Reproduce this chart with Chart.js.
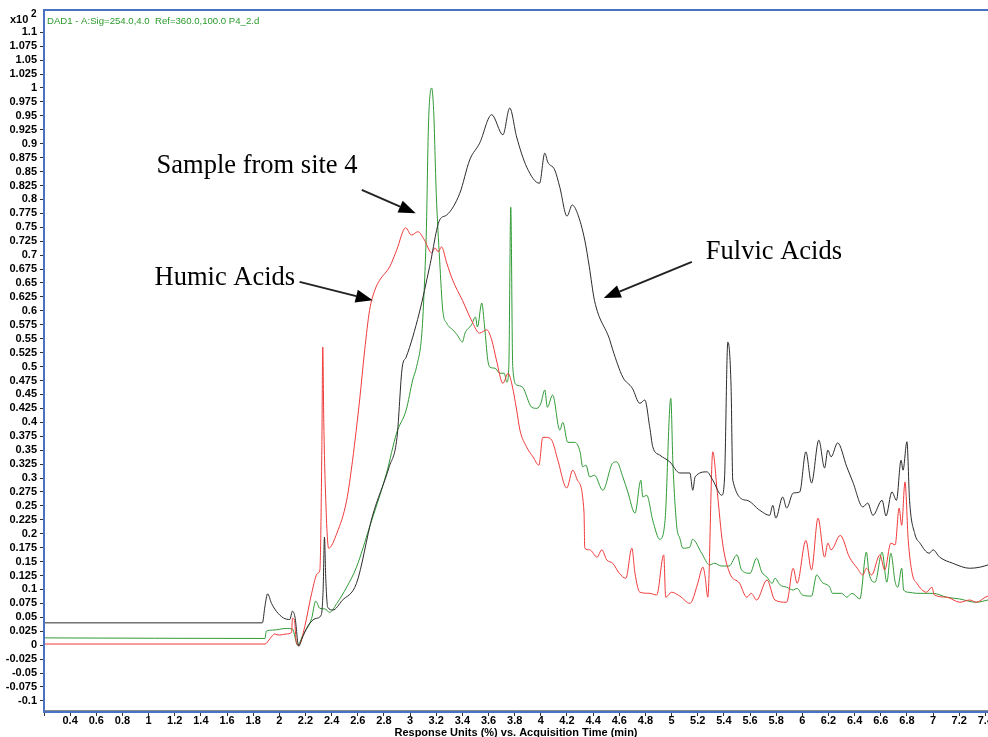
<!DOCTYPE html>
<html>
<head>
<meta charset="utf-8">
<script src="https://cdn.jsdelivr.net/npm/chart.js@4.4.1/dist/chart.umd.min.js"></script>
<style>
  html, body { margin: 0; padding: 0; background: #fff; }
  #wrap { width: 988px; height: 737px; position: relative; }
</style>
</head>
<body>
<div id="wrap"><canvas id="chart"></canvas></div>
<script>
// acquisition time (min) and response (x10^2 %) for each trace
const fulvicT = [0.2, 1.87, 1.89, 1.91, 1.94, 1.98, 2.03, 2.08, 2.10, 2.12, 2.148, 2.17, 2.22, 2.28, 2.32, 2.335, 2.345, 2.355, 2.37, 2.41, 2.48, 2.59, 2.71, 2.84, 2.90, 2.94, 2.97, 3.07, 3.15, 3.226, 3.28, 3.38, 3.456, 3.532, 3.624, 3.71, 3.762, 3.815, 3.892, 3.99, 4.03, 4.053, 4.106, 4.145, 4.2, 4.24, 4.28, 4.336, 4.37, 4.41, 4.527, 4.55, 4.627, 4.70, 4.757, 4.795, 4.833, 4.856, 4.91, 4.986, 5.063, 5.14, 5.162, 5.18, 5.27, 5.315, 5.384, 5.405, 5.43, 5.455, 5.468, 5.575, 5.675, 5.75, 5.774, 5.797, 5.85, 5.88, 5.93, 5.98, 6.027, 6.07, 6.126, 6.17, 6.195, 6.22, 6.27, 6.34, 6.386, 6.463, 6.50, 6.54, 6.61, 6.64, 6.685, 6.72, 6.755, 6.77, 6.80, 6.82, 6.86, 6.9, 6.97, 7.0, 7.05, 7.15, 7.28, 7.36, 7.42];
const fulvicV = [0.040, 0.040, 0.070, 0.092, 0.075, 0.060, 0.049, 0.046, 0.061, 0.050, -0.002, 0.010, 0.035, 0.048, 0.054, 0.100, 0.194, 0.120, 0.068, 0.063, 0.080, 0.111, 0.230, 0.320, 0.373, 0.499, 0.517, 0.596, 0.680, 0.763, 0.772, 0.811, 0.871, 0.901, 0.952, 0.916, 0.964, 0.912, 0.858, 0.829, 0.883, 0.867, 0.853, 0.822, 0.770, 0.790, 0.775, 0.727, 0.680, 0.619, 0.548, 0.530, 0.481, 0.461, 0.434, 0.440, 0.391, 0.356, 0.341, 0.329, 0.309, 0.309, 0.278, 0.302, 0.311, 0.296, 0.269, 0.300, 0.544, 0.463, 0.296, 0.260, 0.242, 0.233, 0.251, 0.228, 0.266, 0.246, 0.273, 0.275, 0.347, 0.291, 0.368, 0.318, 0.350, 0.338, 0.363, 0.320, 0.293, 0.248, 0.255, 0.233, 0.260, 0.232, 0.275, 0.260, 0.332, 0.314, 0.365, 0.260, 0.200, 0.183, 0.165, 0.171, 0.158, 0.147, 0.138, 0.140, 0.144];

const humicT = [0.2, 1.89, 1.93, 1.964, 2.0, 2.05, 2.094, 2.10, 2.115, 2.13, 2.15, 2.194, 2.247, 2.293, 2.31, 2.325, 2.332, 2.34, 2.35, 2.377, 2.44, 2.515, 2.56, 2.614, 2.653, 2.69, 2.73, 2.767, 2.844, 2.897, 2.966, 3.01, 3.06, 3.11, 3.165, 3.19, 3.215, 3.24, 3.28, 3.326, 3.40, 3.48, 3.53, 3.586, 3.624, 3.66, 3.71, 3.75, 3.775, 3.815, 3.84, 3.89, 3.94, 3.985, 4.015, 4.04, 4.083, 4.13, 4.198, 4.244, 4.28, 4.33, 4.336, 4.374, 4.43, 4.466, 4.504, 4.55, 4.60, 4.65, 4.696, 4.72, 4.757, 4.833, 4.886, 4.94, 4.955, 5.0, 5.063, 5.14, 5.16, 5.2, 5.24, 5.257, 5.277, 5.315, 5.35, 5.39, 5.445, 5.52, 5.575, 5.61, 5.65, 5.73, 5.79, 5.88, 5.93, 5.96, 6.027, 6.07, 6.12, 6.17, 6.195, 6.22, 6.29, 6.36, 6.42, 6.463, 6.49, 6.53, 6.593, 6.63, 6.677, 6.71, 6.74, 6.76, 6.785, 6.81, 6.84, 6.876, 6.95, 6.99, 7.01, 7.105, 7.205, 7.28, 7.33, 7.4, 7.42];
const humicV = [0.002, 0.002, 0.012, 0.020, 0.018, 0.020, 0.023, 0.048, 0.046, 0.005, 0.000, 0.033, 0.093, 0.129, 0.135, 0.350, 0.535, 0.400, 0.296, 0.174, 0.201, 0.260, 0.332, 0.440, 0.530, 0.601, 0.637, 0.655, 0.679, 0.709, 0.749, 0.736, 0.742, 0.727, 0.704, 0.713, 0.706, 0.715, 0.686, 0.655, 0.619, 0.578, 0.560, 0.566, 0.548, 0.512, 0.470, 0.488, 0.472, 0.422, 0.386, 0.356, 0.338, 0.323, 0.373, 0.373, 0.368, 0.332, 0.282, 0.314, 0.296, 0.239, 0.174, 0.171, 0.158, 0.171, 0.153, 0.147, 0.129, 0.120, 0.174, 0.129, 0.095, 0.093, 0.090, 0.162, 0.086, 0.095, 0.088, 0.075, 0.081, 0.111, 0.140, 0.122, 0.086, 0.347, 0.273, 0.183, 0.129, 0.111, 0.086, 0.093, 0.081, 0.117, 0.081, 0.077, 0.138, 0.111, 0.188, 0.135, 0.228, 0.158, 0.183, 0.171, 0.197, 0.158, 0.138, 0.126, 0.138, 0.126, 0.162, 0.135, 0.183, 0.180, 0.246, 0.215, 0.293, 0.188, 0.129, 0.111, 0.095, 0.104, 0.090, 0.086, 0.077, 0.081, 0.077, 0.086, 0.088];

const sampleT = [0.2, 1.89, 1.90, 1.95, 2.056, 2.10, 2.14, 2.18, 2.247, 2.278, 2.31, 2.347, 2.385, 2.44, 2.515, 2.59, 2.69, 2.82, 2.897, 2.97, 3.02, 3.05, 3.09, 3.11, 3.125, 3.14, 3.165, 3.18, 3.20, 3.226, 3.25, 3.28, 3.326, 3.36, 3.40, 3.42, 3.47, 3.50, 3.515, 3.548, 3.57, 3.594, 3.61, 3.65, 3.686, 3.72, 3.74, 3.755, 3.77, 3.785, 3.815, 3.86, 3.93, 3.97, 4.0, 4.03, 4.05, 4.09, 4.145, 4.168, 4.206, 4.26, 4.30, 4.32, 4.345, 4.374, 4.41, 4.474, 4.55, 4.58, 4.627, 4.665, 4.72, 4.765, 4.78, 4.81, 4.856, 4.91, 4.95, 4.994, 5.01, 5.04, 5.063, 5.086, 5.14, 5.16, 5.23, 5.29, 5.33, 5.38, 5.44, 5.5, 5.535, 5.6, 5.65, 5.69, 5.73, 5.77, 5.79, 5.83, 5.88, 5.93, 5.96, 6.0, 6.07, 6.11, 6.15, 6.21, 6.23, 6.30, 6.34, 6.38, 6.44, 6.49, 6.51, 6.556, 6.61, 6.646, 6.677, 6.71, 6.73, 6.76, 6.775, 6.81, 6.876, 7.0, 7.105, 7.2, 7.33, 7.42];
const sampleV = [0.013, 0.012, 0.025, 0.027, 0.030, 0.029, 0.000, 0.018, 0.048, 0.079, 0.066, 0.065, 0.059, 0.075, 0.104, 0.140, 0.212, 0.309, 0.381, 0.422, 0.476, 0.500, 0.560, 0.650, 0.750, 0.930, 1.000, 0.960, 0.811, 0.691, 0.601, 0.578, 0.566, 0.557, 0.544, 0.560, 0.575, 0.589, 0.571, 0.614, 0.571, 0.512, 0.499, 0.497, 0.488, 0.488, 0.472, 0.499, 0.786, 0.500, 0.467, 0.463, 0.427, 0.425, 0.434, 0.458, 0.427, 0.449, 0.386, 0.400, 0.364, 0.364, 0.347, 0.320, 0.323, 0.302, 0.305, 0.278, 0.327, 0.329, 0.302, 0.275, 0.237, 0.296, 0.266, 0.269, 0.224, 0.190, 0.224, 0.443, 0.327, 0.212, 0.192, 0.174, 0.176, 0.190, 0.165, 0.144, 0.147, 0.142, 0.142, 0.162, 0.135, 0.129, 0.156, 0.131, 0.122, 0.111, 0.120, 0.108, 0.104, 0.099, 0.102, 0.090, 0.088, 0.126, 0.113, 0.104, 0.093, 0.093, 0.086, 0.093, 0.083, 0.167, 0.129, 0.113, 0.167, 0.113, 0.165, 0.113, 0.104, 0.138, 0.099, 0.095, 0.093, 0.093, 0.086, 0.083, 0.077, 0.081];

// axis limits and tick steps
const X_MIN = 0.2, X_MAX = 7.42, X_STEP = 0.2;
const Y_MIN = -0.12, Y_MAX = 1.14, Y_STEP = 0.025, Y_TOP_TICK = 1.1;

const header = 'DAD1 - A:Sig=254.0,4.0  Ref=360.0,100.0 P4_2.d';
const xTitle = 'Response Units (%) vs. Acquisition Time (min)';

// callouts: text anchor and arrow, in data units
const notes = [
  { text: 'Sample from site 4', x: 1.061, y: 0.847, from: [2.63, 0.817], to: [3.043, 0.775] },
  { text: 'Humic Acids', x: 1.046, y: 0.646, from: [2.155, 0.652], to: [2.714, 0.619] },
  { text: 'Fulvic Acids', x: 5.262, y: 0.693, from: [5.155, 0.688], to: [4.481, 0.623] }
];

const pts = (t, v) => t.map((x, i) => ({ x: x, y: v[i] }));

const tickFont = { family: '"Liberation Sans", Arial, sans-serif', size: 11, weight: 'bold' };

const frame = {
  id: 'frame',
  afterDraw(chart) {
    const { ctx, chartArea: a, scales } = chart;
    ctx.save();
    // blue plot border
    ctx.strokeStyle = '#4a72c2';
    ctx.lineWidth = 2;
    ctx.beginPath();
    ctx.moveTo(a.right, a.top);
    ctx.lineTo(a.left, a.top);
    ctx.lineTo(a.left, a.bottom);
    ctx.lineTo(a.right, a.bottom);
    ctx.stroke();
    ctx.strokeStyle = '#8a8a8a';
    ctx.lineWidth = 1;
    ctx.beginPath();
    ctx.moveTo(a.left + 1, a.bottom - 1.5);
    ctx.lineTo(a.right, a.bottom - 1.5);
    ctx.stroke();

    // x10^2 multiplier
    ctx.fillStyle = '#000';
    ctx.font = 'bold 11px "Liberation Sans", Arial, sans-serif';
    ctx.textBaseline = 'alphabetic';
    ctx.textAlign = 'left';
    ctx.fillText('x10', 10, 23);
    ctx.font = 'bold 10px "Liberation Sans", Arial, sans-serif';
    ctx.fillText('2', 31, 17);

    // header
    ctx.fillStyle = '#2a9a2a';
    ctx.font = '9.6px "Liberation Sans", Arial, sans-serif';
    ctx.fillText(header, a.left + 3, 24);

    // callouts
    const sx = scales.x, sy = scales.y;
    ctx.fillStyle = '#000';
    ctx.strokeStyle = '#222';
    ctx.font = '26.5px "Liberation Serif", "Times New Roman", serif';
    notes.forEach(n => {
      ctx.fillText(n.text, sx.getPixelForValue(n.x), sy.getPixelForValue(n.y));
      const x0 = sx.getPixelForValue(n.from[0]), y0 = sy.getPixelForValue(n.from[1]);
      const x1 = sx.getPixelForValue(n.to[0]), y1 = sy.getPixelForValue(n.to[1]);
      const ang = Math.atan2(y1 - y0, x1 - x0);
      const hl = 17, hw = 6.5;
      const bx = x1 - hl * Math.cos(ang), by = y1 - hl * Math.sin(ang);
      ctx.lineWidth = 2;
      ctx.beginPath();
      ctx.moveTo(x0, y0);
      ctx.lineTo(bx, by);
      ctx.stroke();
      ctx.beginPath();
      ctx.moveTo(x1, y1);
      ctx.lineTo(bx + hw * Math.sin(ang), by - hw * Math.cos(ang));
      ctx.lineTo(bx - hw * Math.sin(ang), by + hw * Math.cos(ang));
      ctx.closePath();
      ctx.fill();
    });
    ctx.restore();
  }
};

new Chart(document.getElementById('chart'), {
  type: 'line',
  data: {
    datasets: [
      { label: 'Fulvic', data: pts(fulvicT, fulvicV), borderColor: '#2b2b2b' },
      { label: 'Humic', data: pts(humicT, humicV), borderColor: '#f03a3a' },
      { label: 'Sample site 4', data: pts(sampleT, sampleV), borderColor: '#2f9a35' }
    ]
  },
  options: {
    responsive: true,
    maintainAspectRatio: false,
    animation: false,
    layout: { padding: { top: 10, right: 0, left: 0, bottom: 0 } },
    elements: {
      point: { radius: 0 },
      line: { borderWidth: 1, cubicInterpolationMode: 'monotone', fill: false }
    },
    plugins: { legend: { display: false }, tooltip: { enabled: false } },
    scales: {
      x: {
        type: 'linear',
        min: X_MIN, max: X_MAX,
        border: { display: false },
        grid: { drawOnChartArea: false, tickLength: 4, color: '#333' },
        ticks: {
          stepSize: X_STEP, includeBounds: false, autoSkip: false, maxRotation: 0,
          color: '#000', font: tickFont, padding: -2,
          callback: v => Math.abs(v - X_MIN) < 1e-6 ? '' : String(parseFloat(v.toFixed(1)))
        },
        title: {
          display: true, text: xTitle, color: '#000', font: tickFont,
          padding: { top: 0, bottom: -3 }
        },
        afterFit(s) { s.height = 25; s.paddingLeft = 0; s.paddingRight = 0; }
      },
      y: {
        type: 'linear',
        min: Y_MIN, max: Y_MAX,
        border: { display: false },
        grid: { drawOnChartArea: false, tickLength: 4, color: '#333' },
        ticks: {
          stepSize: Y_STEP, includeBounds: false, autoSkip: false,
          color: '#000', font: tickFont, padding: 3,
          callback: v => String(parseFloat(v.toFixed(3)))
        },
        afterBuildTicks(s) { s.ticks = s.ticks.filter(t => t.value <= Y_TOP_TICK + 1e-9); },
        afterFit(s) { s.width = 44; s.paddingTop = 0; s.paddingBottom = 0; }
      }
    }
  },
  plugins: [frame]
});
</script>
</body>
</html>
